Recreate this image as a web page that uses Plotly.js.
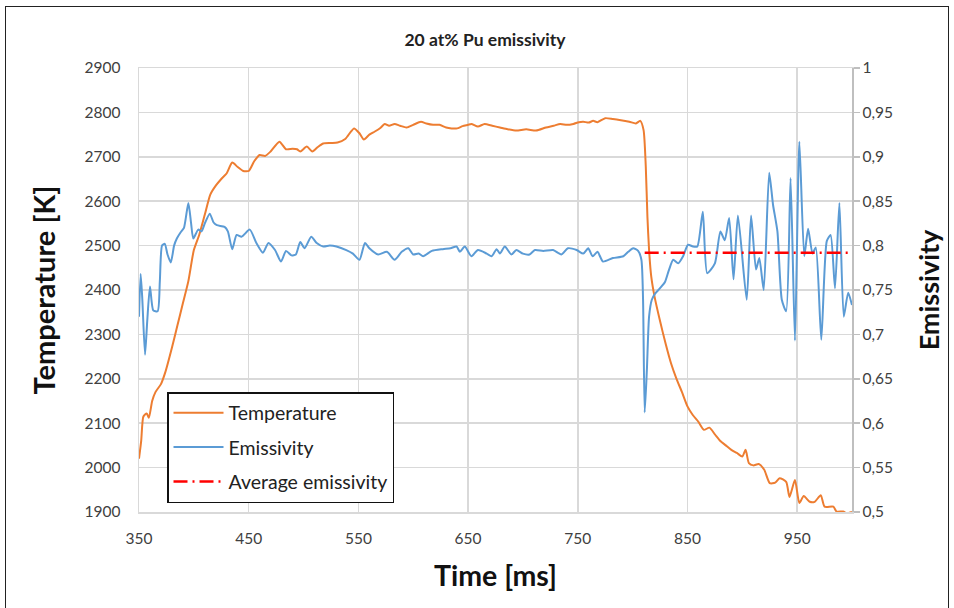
<!DOCTYPE html>
<html>
<head>
<meta charset="utf-8">
<script src="https://cdn.plot.ly/plotly-3.0.1.min.js"></script>
<style>
html,body{margin:0;padding:0;background:#fff;}
#wrap{position:relative;width:954px;height:608px;overflow:hidden;}
#chart{position:absolute;left:0;top:0;width:954px;height:608px;}
#frame{position:absolute;left:5px;top:6px;width:942px;height:620px;border:1.5px solid #222;pointer-events:none;}
</style>
</head>
<body>
<div id="wrap"><div id="chart"></div><div id="frame"></div></div>
<script>
// Temperature [K] vs time [ms]
const tempTime = [350,352,354,357,359,362,365,370,374,380,385,390,395,400,405,410,415,420,425,430,435,440,445,450,455,460,465,470,478,484,490,494,497,503,508,513,518,525,531,538,546,551,555,560,565,570,574,578,583,588,594,600,607,612,618,624,630,635,640,645,650,653,659,665,672,679,686,694,703,712,721,728,734,740,746,751,755,760,764,768,775,782,788,797,803,807,810,812,813.5,815,817,820,825,830,835,840,845,850,855,860,865,870,875,880,885,890,895,900,903,906,910,915,920,925,930,934,940,943,948,952,956,961.5,966,971.5,975,983,986,992,995,1000];
const tempVal = [2020,2060,2115,2122,2112,2150,2170,2188,2215,2270,2320,2370,2420,2490,2525,2570,2615,2635,2650,2663,2687,2677,2668,2668,2690,2704,2702,2712,2734,2717,2718,2717,2712,2723,2712,2722,2730,2731,2732,2740,2764,2753,2739,2750,2757,2765,2774,2770,2774,2770,2766,2772,2779,2775,2772,2772,2766,2764,2764,2769,2772,2774,2768,2774,2770,2766,2762,2759,2762,2759,2766,2770,2774,2772,2774,2778,2779,2777,2781,2778,2787,2785,2783,2779,2775,2781,2760,2678,2565,2490,2430,2385,2330,2280,2235,2200,2170,2138,2118,2103,2085,2090,2075,2060,2050,2040,2033,2025,2040,2010,2005,2008,1995,1965,1966,1976,1968,1934,1972,1920,1936,1923,1923,1938,1912,1912,1901,1901,1897,1900];

// Emissivity vs time [ms]
const emisTime = [350,351.5,353,355.5,357.5,360,363,367,369,371,373.5,376,379,382,384.5,388,391,395,397.5,399.5,404,407,410,414.5,418,421,428,431,435,439,443.5,451,457,463,468,474,479.5,484,489,493,497,501,507,512,518,524,530,539,545,551,556,560,568,576,583,589.5,595.5,600,605,609,617,627,634,639.5,642.5,647,653,659,667,671.5,676,679,683.5,689.5,694,700,706,711,718.5,727.5,735,741,749,755,759.5,763.5,768,773,782,791.5,796,800.5,805,808,809.5,811,813,815,817.5,820.5,825,829.5,833,837,841.5,846,850.5,855,859,864,868,875,880,884,888,892,896,904,908,912.5,915.5,919.5,924.5,928,932,936,940,944,948,952,956.5,960,964,967,972,977,980.5,984.5,988.5,992.5,996.5,1000];
const emisVal = [0.72,0.768,0.74,0.677,0.715,0.754,0.727,0.726,0.76,0.800,0.802,0.79,0.781,0.80,0.808,0.815,0.82,0.848,0.825,0.808,0.818,0.816,0.825,0.836,0.826,0.823,0.821,0.816,0.796,0.812,0.810,0.818,0.803,0.792,0.803,0.795,0.782,0.794,0.789,0.790,0.804,0.797,0.810,0.803,0.799,0.800,0.799,0.795,0.791,0.784,0.803,0.797,0.790,0.793,0.784,0.793,0.797,0.790,0.791,0.788,0.794,0.796,0.797,0.799,0.793,0.799,0.788,0.795,0.791,0.788,0.796,0.791,0.799,0.790,0.795,0.791,0.790,0.795,0.794,0.795,0.790,0.797,0.795,0.791,0.797,0.788,0.793,0.782,0.786,0.788,0.793,0.797,0.794,0.784,0.74,0.612,0.66,0.72,0.739,0.746,0.752,0.759,0.772,0.784,0.780,0.788,0.801,0.799,0.799,0.838,0.769,0.780,0.816,0.806,0.831,0.762,0.834,0.739,0.834,0.773,0.786,0.750,0.882,0.846,0.816,0.739,0.726,0.876,0.693,0.917,0.788,0.819,0.791,0.798,0.694,0.805,0.812,0.752,0.848,0.720,0.747,0.733];

// Average emissivity
const avgTime = [811,1000];
const avgVal = [0.792,0.792];

const xTicks = [350,450,550,650,750,850,950];
const seriesNames = ["Temperature","Emissivity","Average emissivity"];

const FONT = "Lato, 'Open Sans', sans-serif";

const traces = [
  {x: tempTime, y: tempVal, name: seriesNames[0], type: "scatter", mode: "lines",
   line: {color: "#ED7D31", width: 2, shape: "spline", smoothing: 0.6}, yaxis: "y", legendgroup: "a"},
  {x: emisTime, y: emisVal, name: seriesNames[1], type: "scatter", mode: "lines",
   line: {color: "#5B9BD5", width: 2, shape: "spline", smoothing: 0.6}, yaxis: "y2", legendgroup: "b"},
  {x: avgTime, y: avgVal, name: seriesNames[2], type: "scatter", mode: "lines",
   line: {color: "#FF0000", width: 2.5, dash: "14px,5px,2px,5px"}, yaxis: "y2", legendgroup: "c"}
];

const layout = {
  width: 954, height: 608,
  margin: {l: 139, r: 102, t: 68, b: 96, pad: 0},
  paper_bgcolor: "#fff", plot_bgcolor: "#fff",
  separators: ", ",
  font: {family: FONT, color: "#404040", size: 15.5},
  title: {text: "<b>20 at% Pu emissivity</b>", font: {family: FONT, size: 17.5, color: "#222"},
          x: 485/954, xref: "container", xanchor: "center", y: 1 - 40/608, yref: "container", yanchor: "middle"},
  xaxis: {range: [350, 1000], tickvals: xTicks, ticktext: xTicks.map(String),
          showgrid: true, gridcolor: "#d9d9d9", gridwidth: 1.5, zeroline: false,
          showline: true, linecolor: "#d9d9d9", linewidth: 1.5, mirror: true,
          ticks: "outside", ticklen: 12, tickcolor: "rgba(0,0,0,0)",
          tickfont: {family: FONT, size: 15.5, color: "#404040"},
          title: {text: "<b>Time [ms]</b>", font: {family: FONT, size: 28.5, color: "#111"}, standoff: 20}},
  yaxis: {range: [1900, 2900], dtick: 100, tick0: 1900,
          showgrid: true, gridcolor: "#d9d9d9", gridwidth: 1.5, zeroline: false,
          showline: true, linecolor: "#d9d9d9", linewidth: 1.5,
          ticks: "outside", ticklen: 14, tickcolor: "rgba(0,0,0,0)",
          tickfont: {family: FONT, size: 15.5, color: "#404040"},
          title: {text: "<b>Temperature [K]</b>", font: {family: FONT, size: 29, color: "#111"}, standoff: 20}},
  yaxis2: {range: [0.5, 1], dtick: 0.05, tick0: 0.5, overlaying: "y", side: "right",
           showgrid: false, zeroline: false, showline: true, linecolor: "#bfbfbf", linewidth: 1.5,
           ticks: "outside", ticklen: 6, tickcolor: "#bfbfbf", tickwidth: 1.5,
           tickfont: {family: FONT, size: 15.5, color: "#404040"},
           title: {text: "<b>Emissivity</b>", font: {family: FONT, size: 27, color: "#111"}, standoff: 28}},
  showlegend: true,
  legend: {x: (167-139)/713, y: (512-392)/444, xanchor: "left", yanchor: "top",
           bgcolor: "#fff", bordercolor: "#111", borderwidth: 1.5, itemwidth: 50,
           font: {family: FONT, size: 19.5, color: "#222"}, tracegroupgap: 6,
           traceorder: "grouped"}
};

Plotly.newPlot("chart", traces, layout, {displayModeBar: false, staticPlot: true});
</script>
</body>
</html>
